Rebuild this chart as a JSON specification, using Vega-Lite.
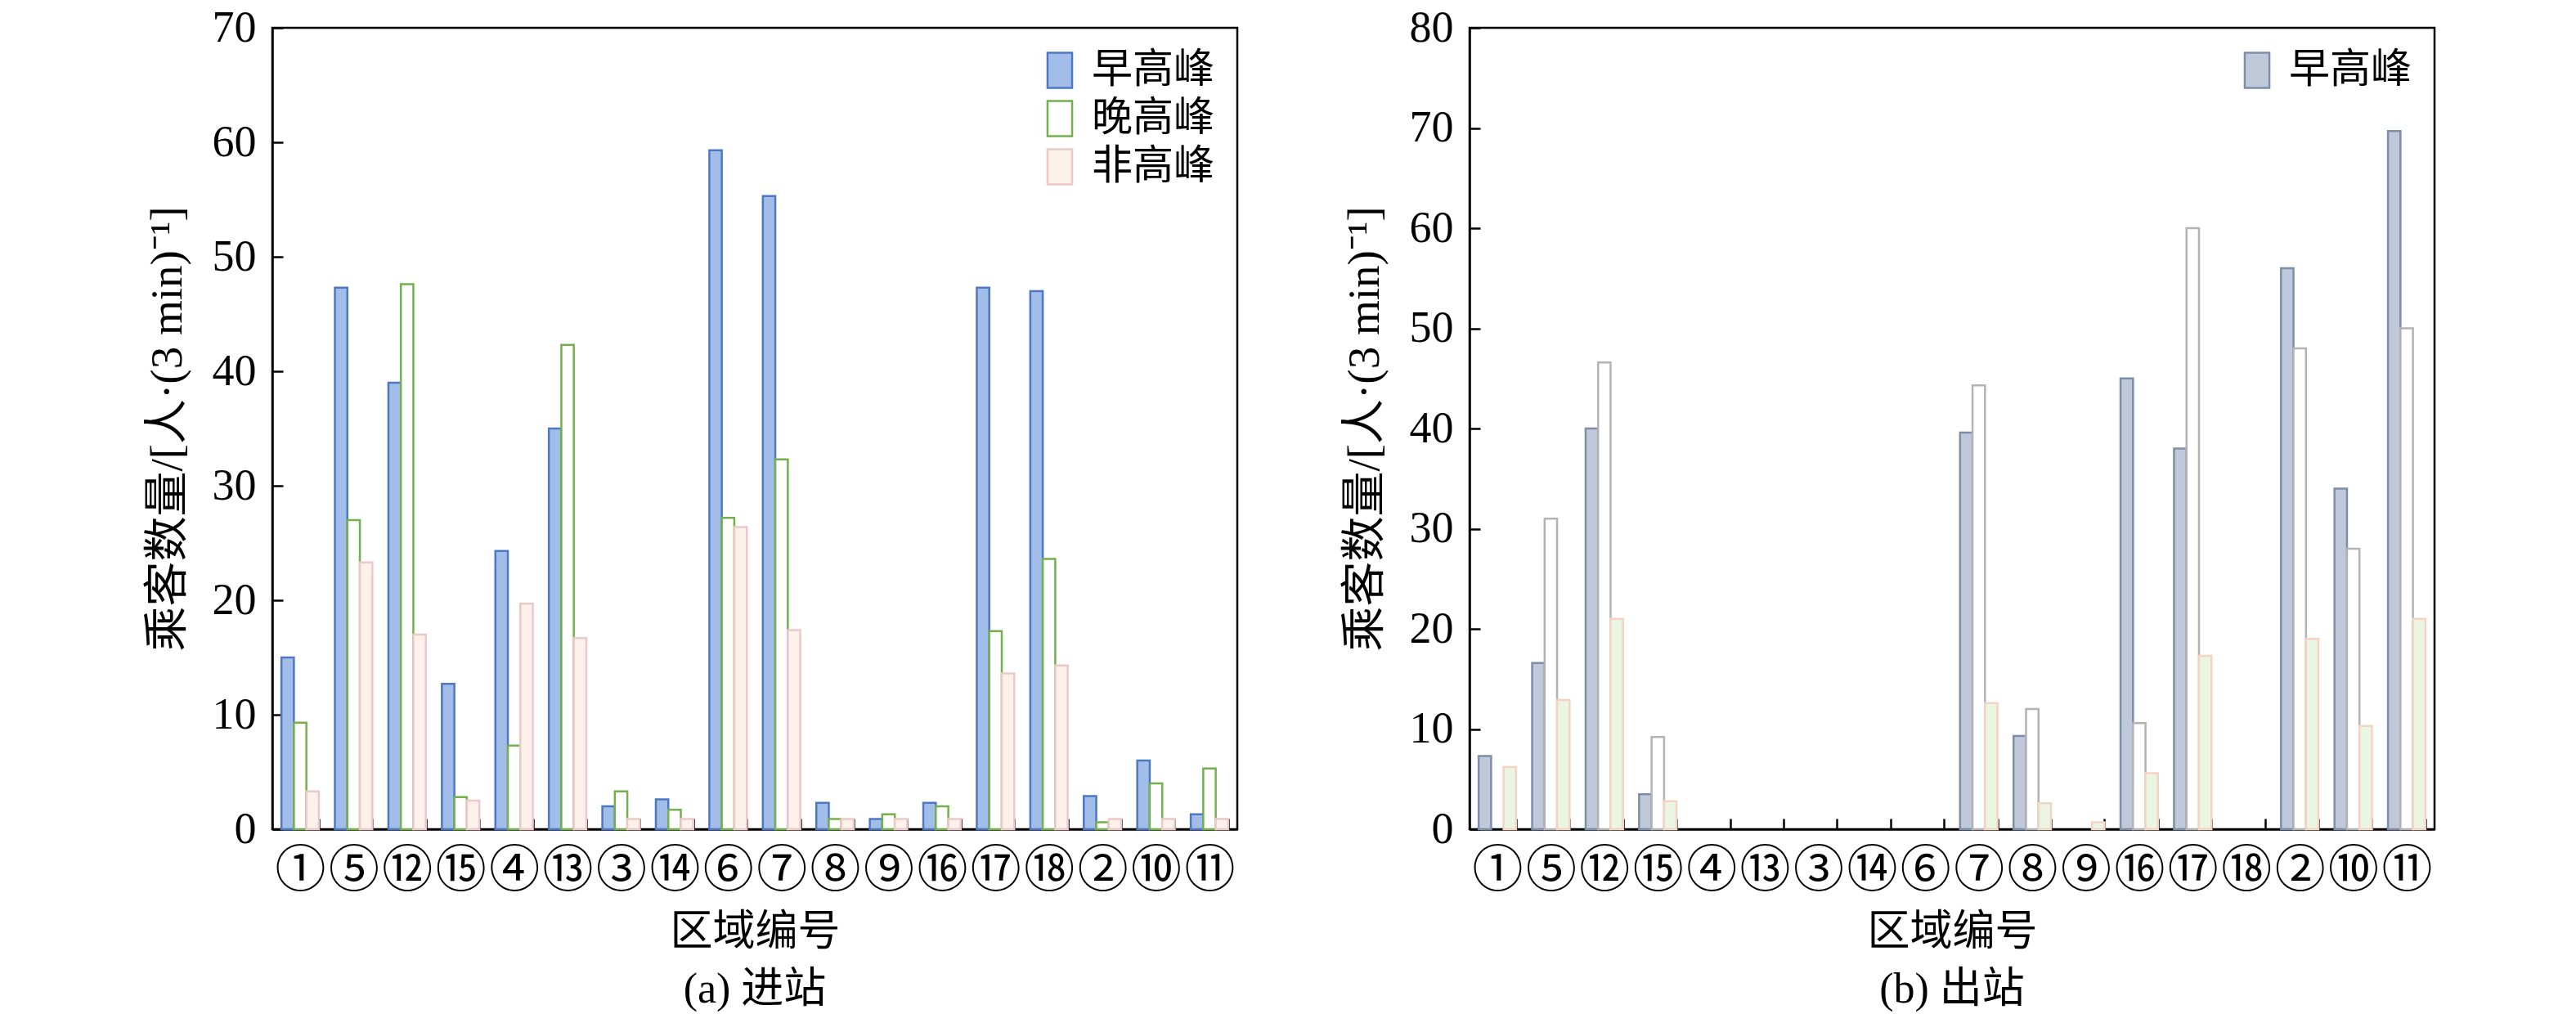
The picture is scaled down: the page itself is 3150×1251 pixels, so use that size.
{
  "$schema": "https://vega.github.io/schema/vega-lite/v6.json",
  "padding": {"left": 175, "top": 5, "right": 5, "bottom": 0},
  "datasets": {
    "in": [
      {"region": "①", "period": "早高峰", "value": 15.0},
      {"region": "①", "period": "晚高峰", "value": 9.3},
      {"region": "①", "period": "非高峰", "value": 3.3},
      {"region": "⑤", "period": "早高峰", "value": 47.3},
      {"region": "⑤", "period": "晚高峰", "value": 27.0},
      {"region": "⑤", "period": "非高峰", "value": 23.3},
      {"region": "⑫", "period": "早高峰", "value": 39.0},
      {"region": "⑫", "period": "晚高峰", "value": 47.6},
      {"region": "⑫", "period": "非高峰", "value": 17.0},
      {"region": "⑮", "period": "早高峰", "value": 12.7},
      {"region": "⑮", "period": "晚高峰", "value": 2.8},
      {"region": "⑮", "period": "非高峰", "value": 2.5},
      {"region": "④", "period": "早高峰", "value": 24.3},
      {"region": "④", "period": "晚高峰", "value": 7.3},
      {"region": "④", "period": "非高峰", "value": 19.7},
      {"region": "⑬", "period": "早高峰", "value": 35.0},
      {"region": "⑬", "period": "晚高峰", "value": 42.3},
      {"region": "⑬", "period": "非高峰", "value": 16.7},
      {"region": "③", "period": "早高峰", "value": 2.0},
      {"region": "③", "period": "晚高峰", "value": 3.3},
      {"region": "③", "period": "非高峰", "value": 0.9},
      {"region": "⑭", "period": "早高峰", "value": 2.6},
      {"region": "⑭", "period": "晚高峰", "value": 1.7},
      {"region": "⑭", "period": "非高峰", "value": 0.9},
      {"region": "⑥", "period": "早高峰", "value": 59.3},
      {"region": "⑥", "period": "晚高峰", "value": 27.2},
      {"region": "⑥", "period": "非高峰", "value": 26.4},
      {"region": "⑦", "period": "早高峰", "value": 55.3},
      {"region": "⑦", "period": "晚高峰", "value": 32.3},
      {"region": "⑦", "period": "非高峰", "value": 17.4},
      {"region": "⑧", "period": "早高峰", "value": 2.3},
      {"region": "⑧", "period": "晚高峰", "value": 0.9},
      {"region": "⑧", "period": "非高峰", "value": 0.9},
      {"region": "⑨", "period": "早高峰", "value": 0.9},
      {"region": "⑨", "period": "晚高峰", "value": 1.3},
      {"region": "⑨", "period": "非高峰", "value": 0.9},
      {"region": "⑯", "period": "早高峰", "value": 2.3},
      {"region": "⑯", "period": "晚高峰", "value": 2.0},
      {"region": "⑯", "period": "非高峰", "value": 0.9},
      {"region": "⑰", "period": "早高峰", "value": 47.3},
      {"region": "⑰", "period": "晚高峰", "value": 17.3},
      {"region": "⑰", "period": "非高峰", "value": 13.6},
      {"region": "⑱", "period": "早高峰", "value": 47.0},
      {"region": "⑱", "period": "晚高峰", "value": 23.6},
      {"region": "⑱", "period": "非高峰", "value": 14.3},
      {"region": "②", "period": "早高峰", "value": 2.9},
      {"region": "②", "period": "晚高峰", "value": 0.6},
      {"region": "②", "period": "非高峰", "value": 0.9},
      {"region": "⑩", "period": "早高峰", "value": 6.0},
      {"region": "⑩", "period": "晚高峰", "value": 4.0},
      {"region": "⑩", "period": "非高峰", "value": 0.9},
      {"region": "⑪", "period": "早高峰", "value": 1.3},
      {"region": "⑪", "period": "晚高峰", "value": 5.3},
      {"region": "⑪", "period": "非高峰", "value": 0.9}
    ],
    "out": [
      {"region": "①", "period": "早高峰", "value": 7.3},
      {"region": "①", "period": "非高峰", "value": 6.2},
      {"region": "⑤", "period": "早高峰", "value": 16.6},
      {"region": "⑤", "period": "晚高峰", "value": 31.0},
      {"region": "⑤", "period": "非高峰", "value": 12.9},
      {"region": "⑫", "period": "早高峰", "value": 40.0},
      {"region": "⑫", "period": "晚高峰", "value": 46.6},
      {"region": "⑫", "period": "非高峰", "value": 21.0},
      {"region": "⑮", "period": "早高峰", "value": 3.5},
      {"region": "⑮", "period": "晚高峰", "value": 9.2},
      {"region": "⑮", "period": "非高峰", "value": 2.8},
      {"region": "⑦", "period": "早高峰", "value": 39.6},
      {"region": "⑦", "period": "晚高峰", "value": 44.3},
      {"region": "⑦", "period": "非高峰", "value": 12.6},
      {"region": "⑧", "period": "早高峰", "value": 9.3},
      {"region": "⑧", "period": "晚高峰", "value": 12.0},
      {"region": "⑧", "period": "非高峰", "value": 2.6},
      {"region": "⑨", "period": "非高峰", "value": 0.7},
      {"region": "⑯", "period": "早高峰", "value": 45.0},
      {"region": "⑯", "period": "晚高峰", "value": 10.6},
      {"region": "⑯", "period": "非高峰", "value": 5.6},
      {"region": "⑰", "period": "早高峰", "value": 38.0},
      {"region": "⑰", "period": "晚高峰", "value": 60.0},
      {"region": "⑰", "period": "非高峰", "value": 17.3},
      {"region": "②", "period": "早高峰", "value": 56.0},
      {"region": "②", "period": "晚高峰", "value": 48.0},
      {"region": "②", "period": "非高峰", "value": 19.0},
      {"region": "⑩", "period": "早高峰", "value": 34.0},
      {"region": "⑩", "period": "晚高峰", "value": 28.0},
      {"region": "⑩", "period": "非高峰", "value": 10.3},
      {"region": "⑪", "period": "早高峰", "value": 69.7},
      {"region": "⑪", "period": "晚高峰", "value": 50.0},
      {"region": "⑪", "period": "非高峰", "value": 21.0}
    ]
  },
  "config": {
    "font": "Liberation Serif, Noto Sans CJK SC",
    "view": {"stroke": "black", "strokeWidth": 2.5},
    "axis": {
      "grid": false,
      "domainColor": "black",
      "domainWidth": 2.5,
      "tickColor": "black",
      "tickWidth": 2.5,
      "tickSize": -13,
      "labelColor": "black",
      "labelFont": "Liberation Serif, Noto Sans CJK SC",
      "labelFontSize": 54,
      "titleColor": "black",
      "titleFont": "Liberation Serif, Noto Sans CJK SC",
      "titleFontSize": 52,
      "titleFontWeight": "normal"
    },
    "axisY": {"labelPadding": 33, "titlePadding": 26, "titleFontSize": 55},
    "axisX": {"labelPadding": 64, "labelBaseline": "middle", "labelFontSize": 62, "titlePadding": 18, "tickBand": "extent", "labelAngle": 0},
    "legend": {
      "orient": "none",
      "legendX": 938,
      "legendY": 27,
      "title": null,
      "padding": 0,
      "labelFont": "Liberation Serif, Noto Sans CJK SC",
      "labelFontSize": 50,
      "labelColor": "black",
      "labelOffset": 14,
      "rowPadding": 5,
      "symbolType": "M-0.7,-1H0.7V1H-0.7Z",
      "symbolSize": 1849,
      "symbolStrokeWidth": 2.5
    },
    "title": {"fontSize": 52, "fontWeight": "normal", "color": "black", "font": "Liberation Serif, Noto Sans CJK SC"}
  },
  "spacing": 124,
  "hconcat": [
    {
      "width": 1180,
      "height": 980,
      "data": {"name": "in"},
      "title": {"text": "(a) 进站", "orient": "bottom", "frame": "group", "anchor": "middle", "offset": 20},
      "mark": {"type": "bar", "strokeWidth": 2.5},
      "encoding": {
        "x": {
          "field": "region", "type": "nominal",
          "sort": ["①","⑤","⑫","⑮","④","⑬","③","⑭","⑥","⑦","⑧","⑨","⑯","⑰","⑱","②","⑩","⑪"],
          "scale": {"domain": ["①","⑤","⑫","⑮","④","⑬","③","⑭","⑥","⑦","⑧","⑨","⑯","⑰","⑱","②","⑩","⑪"], "paddingInner": 0.3, "paddingOuter": 0.17},
          "axis": {"title": "区域编号"}
        },
        "xOffset": {"field": "period", "type": "nominal", "sort": ["早高峰","晚高峰","非高峰"], "scale": {"paddingInner": 0}},
        "y": {
          "field": "value", "type": "quantitative",
          "scale": {"domain": [0, 70]},
          "axis": {"title": "乘客数量/[人·(3 min)⁻¹]", "values": [0,10,20,30,40,50,60,70]}
        },
        "fill": {
          "field": "period", "type": "nominal",
          "scale": {"domain": ["早高峰","晚高峰","非高峰"], "range": ["#a3bde9", "#ffffff", "#fdf1ec"]}
        },
        "stroke": {
          "field": "period", "type": "nominal",
          "scale": {"domain": ["早高峰","晚高峰","非高峰"], "range": ["#4f78c4", "#74b04c", "#ecc8c8"]}
        }
      }
    },
    {
      "width": 1180,
      "height": 980,
      "data": {"name": "out"},
      "title": {"text": "(b) 出站", "orient": "bottom", "frame": "group", "anchor": "middle", "offset": 20},
      "mark": {"type": "bar", "strokeWidth": 2.5},
      "encoding": {
        "x": {
          "field": "region", "type": "nominal",
          "sort": ["①","⑤","⑫","⑮","④","⑬","③","⑭","⑥","⑦","⑧","⑨","⑯","⑰","⑱","②","⑩","⑪"],
          "scale": {"domain": ["①","⑤","⑫","⑮","④","⑬","③","⑭","⑥","⑦","⑧","⑨","⑯","⑰","⑱","②","⑩","⑪"], "paddingInner": 0.3, "paddingOuter": 0.17},
          "axis": {"title": "区域编号"}
        },
        "xOffset": {"field": "period", "type": "nominal", "sort": ["早高峰","晚高峰","非高峰"], "scale": {"paddingInner": 0}},
        "y": {
          "field": "value", "type": "quantitative",
          "scale": {"domain": [0, 80]},
          "axis": {"title": "乘客数量/[人·(3 min)⁻¹]", "values": [0,10,20,30,40,50,60,70,80]}
        },
        "fill": {
          "field": "period", "type": "nominal",
          "scale": {"domain": ["早高峰","晚高峰","非高峰"], "range": ["#c0c9d9", "#ffffff", "#eaf5e2"]},
          "legend": {"values": ["早高峰"]}
        },
        "stroke": {
          "field": "period", "type": "nominal",
          "scale": {"domain": ["早高峰","晚高峰","非高峰"], "range": ["#7d8eab", "#b3b3b3", "#f5d3c3"]},
          "legend": {"values": ["早高峰"]}
        }
      }
    }
  ],
  "resolve": {
    "scale": {"fill": "independent", "stroke": "independent", "y": "independent", "x": "independent", "xOffset": "independent"},
    "legend": {"fill": "independent", "stroke": "independent"}
  }
}
